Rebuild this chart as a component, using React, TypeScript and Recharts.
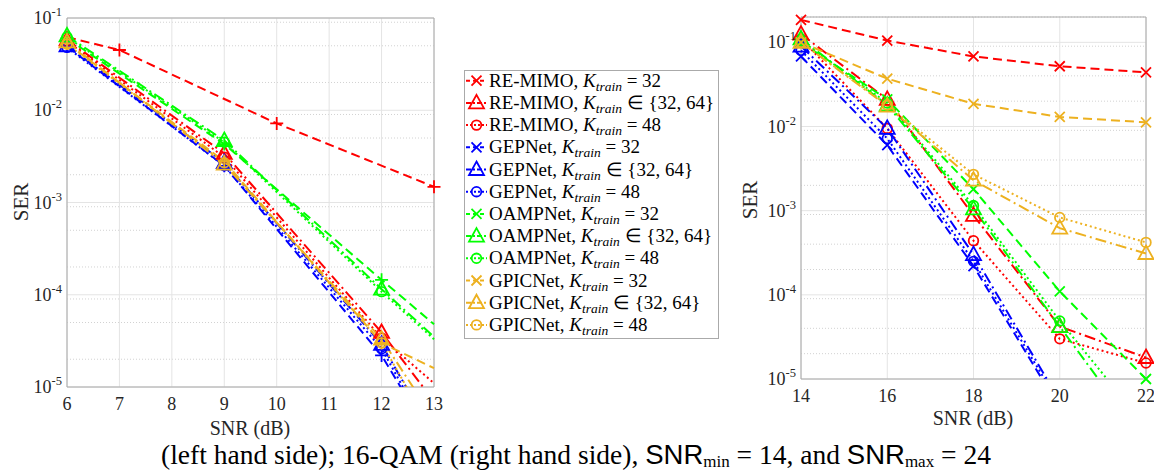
import { LineChart, Line, XAxis, YAxis, CartesianGrid, ReferenceArea } from "recharts";

const FONT = "'Liberation Serif', 'Times New Roman', serif";
const SANS = "'Liberation Sans', Arial, sans-serif";
const INK = "#262626";

const methods = ["RE-MIMO", "GEPNet", "OAMPNet", "GPICNet"];
const methodColors = ["#ff0000", "#0000ff", "#00ff00", "#edb120"];
const trainSets = ["= 32", "∈ {32, 64}", "= 48"];
const setDashes = ["9 5", "11 4 2 4", "2 3"];

const decadeTicks = [1e-5, 1e-4, 1e-3, 1e-2, 1e-1];
const minorSteps = [2, 3, 4, 5, 6, 7, 8, 9];

// left panel
const leftTicksX = [6, 7, 8, 9, 10, 11, 12, 13];
const leftSnr = [6, 9, 12, 13];
const leftMarks = [6, 9, 12];
const leftReMimo32Snr = [6, 7, 10, 13];
const leftReMimo32Marks = [7, 10, 13];
const leftReMimo32 = [0.062, 0.045, 0.0072, 0.00148];
const leftReMimoSet = [0.058, 0.0034, 3.9e-5, 7e-6];
const leftReMimo48 = [0.056, 0.0031, 3.4e-5, 1.1e-5];
const leftGep32 = [0.049, 0.0025, 2.2e-5, 2.5e-6];
const leftGepSet = [0.05, 0.0027, 2.9e-5, 3e-6];
const leftGep48 = [0.048, 0.0025, 2.6e-5, 2.5e-6];
const leftOamp32 = [0.06, 0.0043, 1.45e-4, 4.8e-5];
const leftOampSet = [0.064, 0.0047, 1.15e-4, 3.5e-5];
const leftOamp48 = [0.062, 0.0045, 1.08e-4, 3.3e-5];
const leftGpic32 = [0.053, 0.0028, 3.0e-5, 1.6e-5];
const leftGpicSet = [0.055, 0.0026, 3.3e-5, 4.5e-6];
const leftGpic48 = [0.052, 0.0027, 3.0e-5, 3e-6];

// right panel
const rightTicksX = [14, 16, 18, 20, 22];
const rightSnr = [14, 16, 18, 20, 22];
const rightReMimo32 = [0.185, 0.105, 0.068, 0.052, 0.044];
const rightReMimoSet = [0.125, 0.021, 8.8e-4, 4.2e-5, 1.8e-5];
const rightReMimo48 = [0.11, 0.0095, 4.4e-4, 3.0e-5, 1.55e-5];
const rightGep32 = [0.068, 0.006, 2.2e-4, 4.5e-6, 1e-7];
const rightGepSet = [0.09, 0.0095, 3.0e-4, 5.5e-6, 2e-7];
const rightGep48 = [0.08, 0.0072, 2.5e-4, 5e-6, 1.5e-7];
const rightOamp32 = [0.1, 0.021, 0.0018, 1.1e-4, 1.0e-5];
const rightOampSet = [0.11, 0.018, 1.05e-3, 4.2e-5, 1.7e-6];
const rightOamp48 = [0.105, 0.019, 1.15e-3, 4.9e-5, 2.7e-6];
const rightGpic32 = [0.1, 0.037, 0.0186, 0.013, 0.0112];
const rightGpicSet = [0.1, 0.0175, 0.0023, 6.2e-4, 3.1e-4];
const rightGpic48 = [0.1, 0.018, 0.0027, 8.3e-4, 4.2e-4];

interface Series {
  method: number;
  set: number;
  snr: number[];
  ser: number[];
  marks: number[];
}

const leftSeries: Series[] = [
  { method: 0, set: 0, snr: leftReMimo32Snr, ser: leftReMimo32, marks: leftReMimo32Marks },
  { method: 0, set: 1, snr: leftSnr, ser: leftReMimoSet, marks: leftMarks },
  { method: 0, set: 2, snr: leftSnr, ser: leftReMimo48, marks: leftMarks },
  { method: 1, set: 0, snr: leftSnr, ser: leftGep32, marks: leftMarks },
  { method: 1, set: 1, snr: leftSnr, ser: leftGepSet, marks: leftMarks },
  { method: 1, set: 2, snr: leftSnr, ser: leftGep48, marks: leftMarks },
  { method: 2, set: 0, snr: leftSnr, ser: leftOamp32, marks: leftMarks },
  { method: 2, set: 1, snr: leftSnr, ser: leftOampSet, marks: leftMarks },
  { method: 2, set: 2, snr: leftSnr, ser: leftOamp48, marks: leftMarks },
  { method: 3, set: 0, snr: leftSnr, ser: leftGpic32, marks: leftMarks },
  { method: 3, set: 1, snr: leftSnr, ser: leftGpicSet, marks: leftMarks },
  { method: 3, set: 2, snr: leftSnr, ser: leftGpic48, marks: leftMarks },
];

const rightSeries: Series[] = [
  { method: 0, set: 0, snr: rightSnr, ser: rightReMimo32, marks: rightSnr },
  { method: 0, set: 1, snr: rightSnr, ser: rightReMimoSet, marks: rightSnr },
  { method: 0, set: 2, snr: rightSnr, ser: rightReMimo48, marks: rightSnr },
  { method: 1, set: 0, snr: rightSnr, ser: rightGep32, marks: rightSnr },
  { method: 1, set: 1, snr: rightSnr, ser: rightGepSet, marks: rightSnr },
  { method: 1, set: 2, snr: rightSnr, ser: rightGep48, marks: rightSnr },
  { method: 2, set: 0, snr: rightSnr, ser: rightOamp32, marks: rightSnr },
  { method: 2, set: 1, snr: rightSnr, ser: rightOampSet, marks: rightSnr },
  { method: 2, set: 2, snr: rightSnr, ser: rightOamp48, marks: rightSnr },
  { method: 3, set: 0, snr: rightSnr, ser: rightGpic32, marks: rightSnr },
  { method: 3, set: 1, snr: rightSnr, ser: rightGpicSet, marks: rightSnr },
  { method: 3, set: 2, snr: rightSnr, ser: rightGpic48, marks: rightSnr },
];

type Shape = "plus" | "cross" | "triangle" | "circle";

const Marker = ({ cx, cy, shape, color }: { cx?: number; cy?: number; shape: Shape; color: string }) => {
  if (cx == null || cy == null) return null;
  const common = { stroke: color, strokeWidth: 1.8, fill: "none" };
  if (shape === "plus") return <path d={`M${cx - 6.5},${cy}H${cx + 6.5}M${cx},${cy - 6.5}V${cy + 6.5}`} {...common} />;
  if (shape === "cross")
    return <path d={`M${cx - 5},${cy - 5}L${cx + 5},${cy + 5}M${cx - 5},${cy + 5}L${cx + 5},${cy - 5}`} {...common} />;
  if (shape === "triangle")
    return <path d={`M${cx},${cy - 8}L${cx + 7.5},${cy + 5.5}L${cx - 7.5},${cy + 5.5}Z`} {...common} />;
  return <circle cx={cx} cy={cy} r={4.8} {...common} />;
};

const XTick = ({ x, y, payload }: any) => (
  <text x={x} y={y + 15} textAnchor="middle" fontSize={18} fontFamily={FONT} fill={INK}>
    {payload.value}
  </text>
);

const YTick = ({ x, y, payload }: any) => (
  <text x={x + 3} y={y + 6} textAnchor="end" fontSize={18} fontFamily={FONT} fill={INK}>
    10
    <tspan dy={-8} fontSize={12.5}>
      {Math.round(Math.log10(payload.value))}
    </tspan>
  </text>
);

interface PanelProps {
  series: Series[];
  xTicks: number[];
  yTop: number;
  crossShape: Shape;
  width: number;
  height: number;
  margin: { top: number; right: number; bottom: number; left: number };
}

const Panel = ({ series, xTicks, yTop, crossShape, width, height, margin }: PanelProps) => {
  const xDomain = [xTicks[0], xTicks[xTicks.length - 1]];
  const minorGrid = decadeTicks.slice(0, 4).flatMap((d) => minorSteps.map((k) => k * d)).filter((v) => v <= yTop);
  if (yTop > 0.1) minorGrid.push(0.2);
  const shapes: Shape[] = [crossShape, "triangle", "circle"];
  return (
    <LineChart width={width} height={height} margin={margin}>
      <CartesianGrid horizontalValues={minorGrid} vertical={false} stroke="#d2d2d2" strokeDasharray="1 2" />
      <CartesianGrid horizontalValues={decadeTicks} verticalValues={xTicks} stroke="#e4e4e4" />
      <XAxis
        type="number"
        dataKey="snr"
        domain={xDomain}
        ticks={xTicks}
        axisLine={false}
        tickLine={false}
        height={50}
        tick={<XTick />}
      />
      <YAxis
        type="number"
        scale="log"
        domain={[1e-5, yTop]}
        ticks={decadeTicks}
        allowDataOverflow
        axisLine={false}
        tickLine={false}
        width={60}
        tick={<YTick />}
      />
      <YAxis yAxisId="free" type="number" scale="log" domain={[1e-5, yTop]} hide />
      <ReferenceArea x1={xDomain[0]} x2={xDomain[1]} y1={1e-5} y2={yTop} fill="none" stroke="#a8a8a8" ifOverflow="visible" />
      {series.flatMap((s, i) => {
        const color = methodColors[s.method];
        const pts = s.snr.map((snr, j) => ({ snr, ser: s.ser[j] }));
        const markPts = pts.filter((p) => s.marks.includes(p.snr) && p.ser >= 1e-5 && p.ser <= yTop);
        return [
          <Line
            key={`l${i}`}
            data={pts}
            dataKey="ser"
            type="linear"
            stroke={color}
            strokeWidth={2}
            strokeDasharray={setDashes[s.set]}
            dot={false}
            activeDot={false}
            legendType="none"
            isAnimationActive={false}
          />,
          <Line
            key={`m${i}`}
            yAxisId="free"
            data={markPts}
            dataKey="ser"
            stroke="none"
            dot={(p: any) => <Marker key={p.key} cx={p.cx} cy={p.cy} shape={shapes[s.set]} color={color} />}
            activeDot={false}
            legendType="none"
            isAnimationActive={false}
          />,
        ];
      })}
    </LineChart>
  );
};

const LegendBox = () => {
  const top = 80.7;
  const step = 22.2;
  const shapes: Shape[] = ["cross", "triangle", "circle"];
  return (
    <g>
      <rect x={464.5} y={70.5} width={254} height={268} fill="#fff" stroke="#aaaaaa" />
      {methods.flatMap((m, mi) =>
        trainSets.map((t, ti) => {
          const cy = top + (mi * 3 + ti) * step;
          const color = methodColors[mi];
          return (
            <g key={`${mi}-${ti}`}>
              <line x1={466} x2={487} y1={cy} y2={cy} stroke={color} strokeWidth={2} strokeDasharray={ti === 2 ? "2 2" : ti === 1 ? "5 2 2 2" : "4 3"} />
              <Marker cx={476.5} cy={cy} shape={shapes[ti]} color={color} />
              <text x={489} y={cy + 6} fontSize={19} fontFamily={FONT} fill="#000">
                {m},{" "}
                <tspan fontStyle="italic">K</tspan>
                <tspan fontStyle="italic" fontSize={13.5} dy={4}>
                  train
                </tspan>
                <tspan dy={-4}> {t}</tspan>
              </text>
            </g>
          );
        })
      )}
    </g>
  );
};

export default function App() {
  return (
    <div style={{ position: "fixed", left: 0, top: 0, width: 1154, height: 474, background: "#fff", overflow: "hidden" }}>
      <div style={{ position: "absolute", left: 0, top: 0 }}>
        <Panel
          series={leftSeries}
          xTicks={leftTicksX}
          yTop={0.1}
          crossShape="plus"
          width={460}
          height={440}
          margin={{ top: 18, right: 26, bottom: 3, left: 7 }}
        />
      </div>
      <div style={{ position: "absolute", left: 700, top: 0 }}>
        <Panel
          series={rightSeries}
          xTicks={rightTicksX}
          yTop={0.2}
          crossShape="cross"
          width={454}
          height={440}
          margin={{ top: 17, right: 8, bottom: 11, left: 41 }}
        />
      </div>
      <svg width={1154} height={474} style={{ position: "absolute", left: 0, top: 0, pointerEvents: "none" }}>
        <text x={21} y={202} transform="rotate(-90 21 202)" dy={7} textAnchor="middle" fontSize={21} fontFamily={FONT} fill={INK}>
          SER
        </text>
        <text x={250} y={435} textAnchor="middle" fontSize={20} fontFamily={FONT} fill={INK}>
          SNR (dB)
        </text>
        <text x={750} y={200} transform="rotate(-90 750 200)" dy={7} textAnchor="middle" fontSize={21} fontFamily={FONT} fill={INK}>
          SER
        </text>
        <text x={973} y={425} textAnchor="middle" fontSize={20} fontFamily={FONT} fill={INK}>
          SNR (dB)
        </text>
        <LegendBox />
        <text x={161} y={464} fontSize={27.5} fontFamily={FONT} fill="#000">
          (left hand side); 16-QAM (right hand side),{" "}
          <tspan fontFamily={SANS}>SNR</tspan>
          <tspan fontSize={17} dy={3}>min</tspan>
          <tspan dy={-3}> = 14, and </tspan>
          <tspan fontFamily={SANS}>SNR</tspan>
          <tspan fontSize={17} dy={3}>max</tspan>
          <tspan dy={-3}> = 24</tspan>
        </text>
      </svg>
    </div>
  );
}
